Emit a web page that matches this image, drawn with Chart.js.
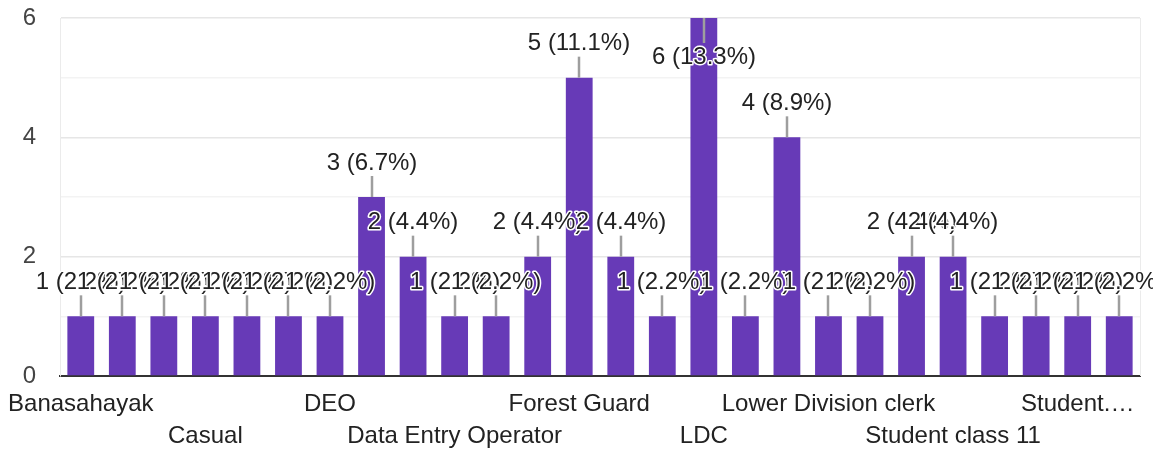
<!DOCTYPE html>
<html>
<head>
<meta charset="utf-8">
<script src="https://cdn.jsdelivr.net/npm/chart.js@4/dist/chart.umd.min.js"></script>
<style>
  html, body { margin: 0; padding: 0; background: #fff; }
  #wrap { width: 1153px; height: 450px; position: relative; }
</style>
</head>
<body>
<div id="wrap"><canvas id="c" width="1153" height="450"></canvas></div>
<script>
// Categories (only every third name is legible in the reference; others left blank)
const categories = [
  "Banasahayak", "", "",
  "Casual", "", "",
  "DEO", "", "",
  "Data Entry Operator", "", "",
  "Forest Guard", "", "",
  "LDC", "", "",
  "Lower Division clerk", "", "",
  "Student class 11", "", "",
  "Student.\u2026", ""
];
const counts = [1, 1, 1, 1, 1, 1, 1, 3, 2, 1, 1, 2, 5, 2, 1, 6, 1, 4, 1, 1, 2, 2, 1, 1, 1, 1];
const yTicks = [0, 2, 4, 6];

const FONT = "'Liberation Sans', Arial, sans-serif";
const total = counts.reduce((a, b) => a + b, 0);

const barLabels = {
  id: 'barLabels',
  beforeDatasetsDraw(chart) {
    const { ctx, chartArea } = chart;
    ctx.save();
    ctx.strokeStyle = '#ebebeb';
    ctx.lineWidth = 1;
    ctx.beginPath();
    ctx.moveTo(Math.round(chartArea.right) + 0.5, chartArea.top);
    ctx.lineTo(Math.round(chartArea.right) + 0.5, chartArea.bottom);
    ctx.stroke();
    ctx.restore();
  },
  afterDatasetsDraw(chart) {
    const { ctx, chartArea } = chart;
    const meta = chart.getDatasetMeta(0);
    ctx.save();
    ctx.font = '24px ' + FONT;
    ctx.textAlign = 'center';
    ctx.textBaseline = 'middle';
    ctx.lineJoin = 'round';
    meta.data.forEach((el, i) => {
      const v = counts[i];
      const txt = v + ' (' + (v / total * 100).toFixed(1) + '%)';
      const x = Math.round(el.x);
      const top = el.y;
      let lineA, lineB, ty;
      if (top - 34 - 13 < 0) {
        lineA = chartArea.top; lineB = chartArea.top + 25; ty = chartArea.top + 39;
      } else {
        lineA = top; lineB = top - 21; ty = top - 34;
      }
      ctx.strokeStyle = '#9e9e9e';
      ctx.lineWidth = 2.5;
      ctx.beginPath();
      ctx.moveTo(x, lineA);
      ctx.lineTo(x, lineB);
      ctx.stroke();
      ctx.strokeStyle = '#ffffff';
      ctx.lineWidth = 3;
      ctx.strokeText(txt, x, ty);
      ctx.fillStyle = '#222222';
      ctx.fillText(txt, x, ty);
    });
    ctx.restore();
  }
};

new Chart(document.getElementById('c'), {
  type: 'bar',
  data: {
    labels: categories,
    datasets: [{
      data: counts,
      backgroundColor: '#673ab7',
      borderWidth: 0,
      barPercentage: 0.645,
      categoryPercentage: 1.0
    }]
  },
  options: {
    responsive: false,
    animation: false,
    events: [],
    layout: { padding: { top: 0, right: 13, left: 0, bottom: 0 } },
    plugins: { legend: { display: false }, tooltip: { enabled: false } },
    scales: {
      x: {
        grid: { display: false, drawTicks: false },
        border: { display: true, color: '#333333', width: 2 },
        ticks: {
          autoSkip: false,
          maxRotation: 0,
          minRotation: 0,
          padding: 12,
          color: '#222222',
          font: { family: FONT, size: 24, lineHeight: 1.3333 },
          callback: function (v, i) {
            if (i % 3 !== 0) return '';
            const l = categories[i];
            return ((i / 3) % 2 === 0) ? l : ['', l];
          }
        },
        afterFit(s) { s.height = 74; s.paddingLeft = 0; s.paddingRight = 0; }
      },
      y: {
        min: 0,
        max: 6,
        grid: {
          drawTicks: false,
          color: (c) => (yTicks.includes(c.tick.value) ? '#e6e6e6' : '#f3f3f3'),
          lineWidth: 1.5
        },
        border: { display: true, color: '#ebebeb', width: 1 },
        ticks: {
          stepSize: 1,
          padding: 24,
          color: '#444444',
          font: { family: FONT, size: 24 },
          callback: (v) => (yTicks.includes(v) ? String(v) : '')
        },
        afterFit(s) { s.width = 60; s.paddingTop = 18; s.paddingBottom = 0; }
      }
    }
  },
  plugins: [barLabels]
});
</script>
</body>
</html>
